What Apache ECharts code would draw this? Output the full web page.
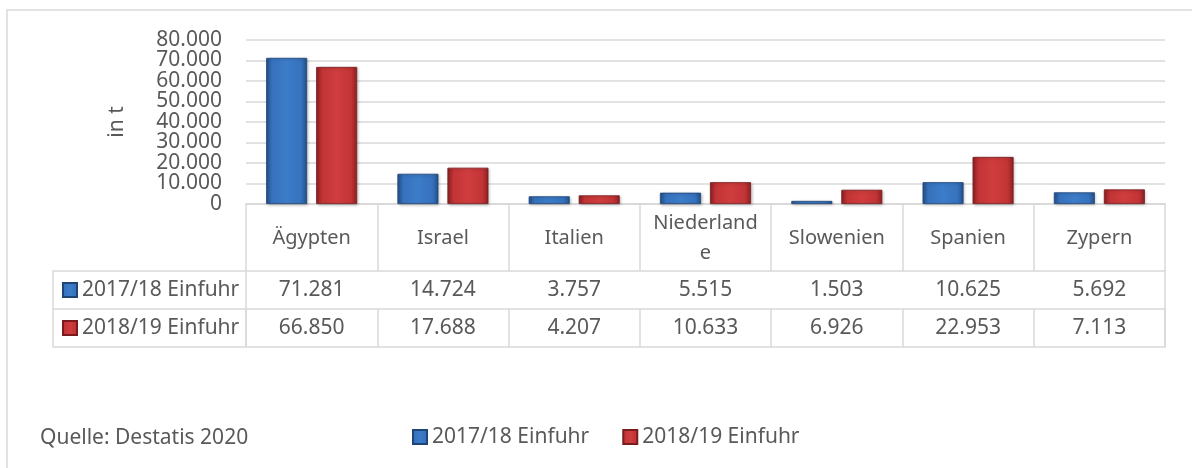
<!DOCTYPE html>
<html>
<head>
<meta charset="utf-8">
<script src="https://cdn.jsdelivr.net/npm/echarts@6/dist/echarts.min.js"></script>
<style>
  html, body { margin: 0; padding: 0; background: #fff; }
  #chart { width: 1192px; height: 468px; }
</style>
</head>
<body>
<div id="chart"></div>
<script>
// data
var laender = ['Ägypten', 'Israel', 'Italien', 'Niederlande', 'Slowenien', 'Spanien', 'Zypern'];
var einfuhr1718 = [71281, 14724, 3757, 5515, 1503, 10625, 5692];
var einfuhr1819 = [66850, 17688, 4207, 10633, 6926, 22953, 7113];
var serienNamen = ['2017/18 Einfuhr', '2018/19 Einfuhr'];
var yTicks = [0, 10000, 20000, 30000, 40000, 50000, 60000, 70000, 80000];
var quelle = 'Quelle: Destatis 2020';

var textFarbe = '#595959';
var linienFarbe = '#d9d9d9';
var schrift = 'Noto Sans';

// German thousands separator
function fmt(v) {
	return String(v).replace(/\B(?=(\d{3})+(?!\d))/g, '.');
}

function verlauf(dunkel, mitte, hell) {
	return new echarts.graphic.LinearGradient(0, 0, 1, 0, [
		{ offset: 0, color: dunkel },
		{ offset: 0.15, color: mitte },
		{ offset: 0.5, color: hell },
		{ offset: 0.85, color: mitte },
		{ offset: 1, color: dunkel }
	]);
}

var blau = verlauf('#24508a', '#3672bd', '#3c7cc9');
var rot = verlauf('#8c2123', '#c23436', '#d03d3e');

// the labels sit closer than their line height, so they are split onto two
// overlaid axes, otherwise echarts drops every other one
var ticksGerade = yTicks.filter(function (v, i) { return i % 2 === 0; });
var ticksUngerade = yTicks.filter(function (v, i) { return i % 2 === 1; });

function yAchse(werte, mitGitter) {
	return {
		type: 'value',
		position: 'left',
		min: yTicks[0],
		max: yTicks[yTicks.length - 1],
		interval: yTicks[1] - yTicks[0],
		axisLine: { show: false },
		axisTick: { show: false },
		axisLabel: {
			margin: 24,
			customValues: werte,
			color: textFarbe,
			fontSize: 21,
			fontFamily: schrift,
			formatter: function (v) { return fmt(v); }
		},
		splitLine: { show: mitGitter, lineStyle: { color: linienFarbe, width: 1.5 } }
	};
}

var achse0 = yAchse(ticksGerade, true);
achse0.name = 'in t';
achse0.nameLocation = 'middle';
achse0.nameRotate = 90;
achse0.nameGap = 118;
achse0.nameTextStyle = { color: textFarbe, fontSize: 21, fontFamily: schrift };
var achse1 = yAchse(ticksUngerade, false);

var myChart = echarts.init(document.getElementById('chart'));

var option = {
	animation: false,
	textStyle: { fontFamily: schrift },
	grid: {
		left: 246,
		right: 27,
		top: 40,
		bottom: 264,
		containLabel: false
	},
	legend: [{
		// legend at the bottom
		data: serienNamen,
		left: 412,
		top: 425,
		padding: 0,
		itemWidth: 14,
		itemHeight: 14,
		itemGap: 33,
		icon: 'rect',
		selectedMode: false,
		textStyle: { color: textFarbe, fontSize: 21, lineHeight: 24, fontFamily: schrift }
	}, {
		// row labels of the data table
		data: serienNamen,
		orient: 'vertical',
		left: 62,
		top: 278,
		padding: 0,
		itemWidth: 14,
		itemHeight: 14,
		itemGap: 14,
		icon: 'rect',
		selectedMode: false,
		textStyle: { color: textFarbe, fontSize: 21, lineHeight: 24, fontFamily: schrift }
	}],
	xAxis: [{
		type: 'category',
		data: laender,
		axisLine: { show: true, lineStyle: { color: linienFarbe, width: 1.5 } },
		axisTick: { show: true, length: 67, lineStyle: { color: linienFarbe, width: 1.5 } },
		axisLabel: {
			interval: 0,
			margin: 34,
			verticalAlign: 'middle',
			color: textFarbe,
			fontSize: 20,
			lineHeight: 30,
			fontFamily: schrift,
			formatter: function (v) {
				return v === 'Niederlande' ? 'Niederland\ne' : v;
			}
		}
	}, {
		type: 'category',
		position: 'bottom',
		offset: 67,
		data: einfuhr1718.map(fmt),
		axisLine: { show: true, lineStyle: { color: linienFarbe, width: 1.5 } },
		axisTick: { show: true, length: 38, lineStyle: { color: linienFarbe, width: 1.5 } },
		axisLabel: { interval: 0, margin: 19, verticalAlign: 'middle', color: textFarbe, fontSize: 21, fontFamily: schrift }
	}, {
		type: 'category',
		position: 'bottom',
		offset: 105,
		data: einfuhr1819.map(fmt),
		axisLine: { show: true, lineStyle: { color: linienFarbe, width: 1.5 } },
		axisTick: { show: true, length: 38, lineStyle: { color: linienFarbe, width: 1.5 } },
		axisLabel: { interval: 0, margin: 19, verticalAlign: 'middle', color: textFarbe, fontSize: 21, fontFamily: schrift }
	}],
	yAxis: [achse0, achse1],
	series: [{
		name: serienNamen[0],
		type: 'bar',
		data: einfuhr1718,
		barWidth: 41,
		barGap: '22%',
		itemStyle: {
			color: blau,
			borderColor: '#1f4577',
			borderWidth: 0.8,
			shadowColor: 'rgba(0,0,0,0.25)',
			shadowBlur: 3,
			shadowOffsetX: 1,
			shadowOffsetY: 1
		}
	}, {
		name: serienNamen[1],
		type: 'bar',
		data: einfuhr1819,
		barWidth: 41,
		itemStyle: {
			color: rot,
			borderColor: '#7a1c1e',
			borderWidth: 0.8,
			shadowColor: 'rgba(0,0,0,0.25)',
			shadowBlur: 3,
			shadowOffsetX: 1,
			shadowOffsetY: 1
		}
	}],
	graphic: [{
		// outer chart frame
		type: 'rect',
		shape: { x: 7, y: 10, width: 1200, height: 500 },
		style: { fill: 'none', stroke: linienFarbe, lineWidth: 1.5 },
		silent: true
	}, {
		// frame of the table rows incl. label column
		type: 'rect',
		shape: { x: 53, y: 271, width: 1112, height: 76 },
		style: { fill: 'none', stroke: linienFarbe, lineWidth: 1.5 },
		silent: true
	}, {
		type: 'line',
		shape: { x1: 53, y1: 309, x2: 246, y2: 309 },
		style: { stroke: linienFarbe, lineWidth: 1.5 },
		silent: true
	}, {
		type: 'line',
		shape: { x1: 246, y1: 271, x2: 246, y2: 347 },
		style: { stroke: linienFarbe, lineWidth: 1.5 },
		silent: true
	}, {
		type: 'text',
		left: 40,
		top: 428,
		style: { text: quelle, fill: textFarbe, fontSize: 21, fontFamily: schrift }
	}]
};

myChart.setOption(option);
</script>
</body>
</html>
